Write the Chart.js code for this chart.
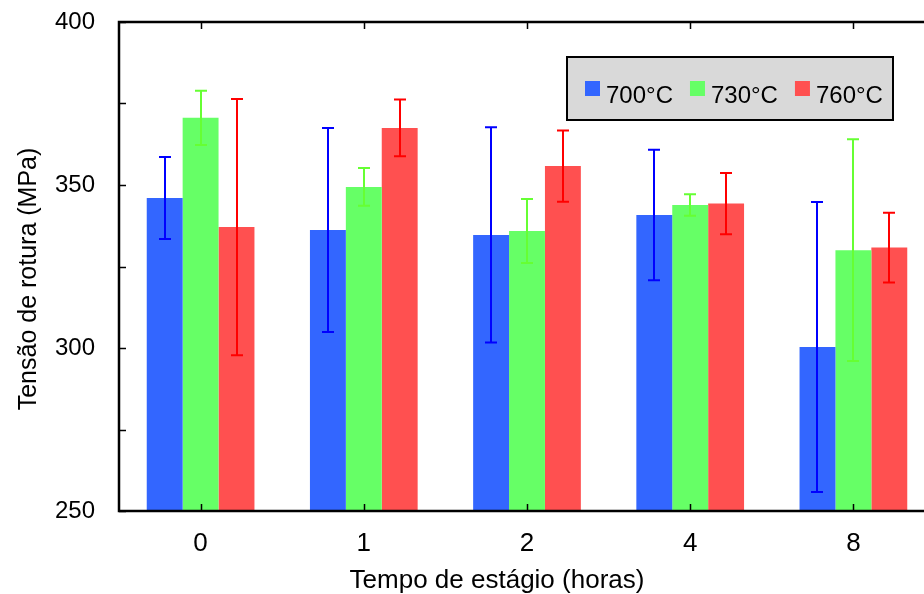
<!DOCTYPE html>
<html>
<head>
<meta charset="utf-8">
<script src="https://cdn.jsdelivr.net/npm/chart.js@4.4.1/dist/chart.umd.min.js"></script>
<style>
  html, body { margin: 0; padding: 0; background: #fff; overflow: hidden; }
  #wrap { width: 960px; height: 594px; }
</style>
</head>
<body>
<div id="wrap"><canvas id="graficoTensao"></canvas></div>
<script>
// Dados (MPa)
const categorias = ['0', '1', '2', '4', '8'];
const series = ['700°C', '730°C', '760°C'];
const media700 = [346.0, 336.2, 334.7, 340.8, 300.3];
const erro700 = [12.6, 31.3, 33.0, 20.0, 44.5];
const media730 = [370.6, 349.4, 335.9, 343.9, 330.0];
const erro730 = [8.3, 5.8, 9.8, 3.3, 34.0];
const media760 = [337.1, 367.5, 355.8, 344.3, 330.8];
const erro760 = [39.3, 8.7, 10.9, 9.4, 10.7];
const yTicks = [250, 300, 350, 400];
const tituloX = 'Tempo de estágio (horas)';
const tituloY = 'Tensão de rotura (MPa)';

const corBarra = ['#3366FF', '#66FF66', '#FF5050'];
const corErro = ['#0000FF', '#66FF33', '#FF0000'];
const erros = [erro700, erro730, erro760];

const FONTE = '"Liberation Sans", Arial, sans-serif';

// Moldura + marcas dos eixos (para dentro)
const molduraPlugin = {
  id: 'moldura',
  afterDatasetsDraw(chart) {
    const { ctx, chartArea: a, scales } = chart;
    ctx.save();
    ctx.strokeStyle = '#000';
    ctx.lineWidth = 1.5;
    // marcas no eixo y (cada 25)
    for (let v = yTicks[0]; v <= yTicks[yTicks.length - 1]; v += 25) {
      const y = Math.round(scales.y.getPixelForValue(v)) + 0.5;
      ctx.beginPath();
      ctx.moveTo(a.left, y); ctx.lineTo(a.left + 7, y);
      ctx.moveTo(a.right, y); ctx.lineTo(a.right - 7, y);
      ctx.stroke();
    }
    // marcas no eixo x (topo e base)
    categorias.forEach((c, i) => {
      const x = Math.round(scales.x.getPixelForValue(i)) + 0.5;
      ctx.beginPath();
      ctx.moveTo(x, a.top); ctx.lineTo(x, a.top + 7);
      ctx.moveTo(x, a.bottom); ctx.lineTo(x, a.bottom - 7);
      ctx.stroke();
    });
    ctx.lineWidth = 2.5;
    ctx.strokeRect(a.left, a.top, a.right - a.left, a.bottom - a.top);
    ctx.restore();
  }
};

// Barras de erro
const errosPlugin = {
  id: 'barrasErro',
  afterDatasetsDraw(chart) {
    const { ctx, scales } = chart;
    ctx.save();
    ctx.lineWidth = 2;
    chart.data.datasets.forEach((ds, d) => {
      const meta = chart.getDatasetMeta(d);
      ctx.strokeStyle = corErro[d];
      meta.data.forEach((bar, i) => {
        const m = ds.data[i];
        const e = erros[d][i];
        const yTop = scales.y.getPixelForValue(m + e);
        const yBot = scales.y.getPixelForValue(m - e);
        const x = Math.round(bar.x);
        ctx.beginPath();
        ctx.moveTo(x, yTop); ctx.lineTo(x, yBot);
        ctx.moveTo(x - 6, yTop); ctx.lineTo(x + 6, yTop);
        ctx.moveTo(x - 6, yBot); ctx.lineTo(x + 6, yBot);
        ctx.stroke();
      });
    });
    ctx.restore();
  }
};

// Títulos dos eixos (posicionados como na figura original)
const titulosPlugin = {
  id: 'titulos',
  afterDraw(chart) {
    const { ctx } = chart;
    ctx.save();
    ctx.fillStyle = '#000';
    ctx.textAlign = 'center';
    ctx.textBaseline = 'alphabetic';
    ctx.font = '26px ' + FONTE;
    ctx.fillText(tituloX, 497, 588);
    ctx.translate(36, 279);
    ctx.rotate(-Math.PI / 2);
    ctx.font = '25px ' + FONTE;
    ctx.fillText(tituloY, 0, 0);
    ctx.restore();
  }
};

// Legenda em caixa cinzenta dentro da área do gráfico
const legendaPlugin = {
  id: 'legendaCaixa',
  afterDraw(chart) {
    const { ctx } = chart;
    ctx.save();
    ctx.fillStyle = '#D9D9D9';
    ctx.fillRect(567, 57, 326, 63);
    ctx.strokeStyle = '#000';
    ctx.lineWidth = 2;
    ctx.strokeRect(567, 57, 326, 63);
    ctx.font = '24px ' + FONTE;
    ctx.textBaseline = 'alphabetic';
    let x = 585;
    chart.data.datasets.forEach((ds, d) => {
      ctx.fillStyle = ds.backgroundColor;
      ctx.fillRect(x, 81, 15, 15);
      ctx.fillStyle = '#000';
      ctx.fillText(ds.label, x + 21, 103);
      x += 21 + ctx.measureText(ds.label).width + 17;
    });
    ctx.restore();
  }
};

new Chart(document.getElementById('graficoTensao'), {
  type: 'bar',
  data: {
    labels: categorias,
    datasets: [
      { label: series[0], data: media700, backgroundColor: corBarra[0] },
      { label: series[1], data: media730, backgroundColor: corBarra[1] },
      { label: series[2], data: media760, backgroundColor: corBarra[2] }
    ]
  },
  options: {
    responsive: true,
    maintainAspectRatio: false,
    animation: false,
    layout: { padding: { top: 22, right: 25, left: 0, bottom: 0 } },
    datasets: { bar: { barPercentage: 1.0, categoryPercentage: 0.66 } },
    plugins: { legend: { display: false }, tooltip: { enabled: false } },
    scales: {
      x: {
        grid: { display: false, drawTicks: false },
        border: { display: false },
        ticks: { color: '#000', font: { family: FONTE, size: 26 }, padding: 17 },
        afterFit(s) { s.height = 83; s.paddingLeft = 0; s.paddingRight = 0; }
      },
      y: {
        min: 250, max: 400,
        grid: { display: false, drawTicks: false },
        border: { display: false },
        ticks: {
          stepSize: 25, color: '#000', padding: 24,
          font: { family: FONTE, size: 24 },
          callback: v => (yTicks.includes(v) ? v : '')
        },
        afterFit(s) { s.width = 119; s.paddingTop = 0; s.paddingBottom = 0; }
      }
    }
  },
  plugins: [errosPlugin, molduraPlugin, titulosPlugin, legendaPlugin]
});
</script>
</body>
</html>
